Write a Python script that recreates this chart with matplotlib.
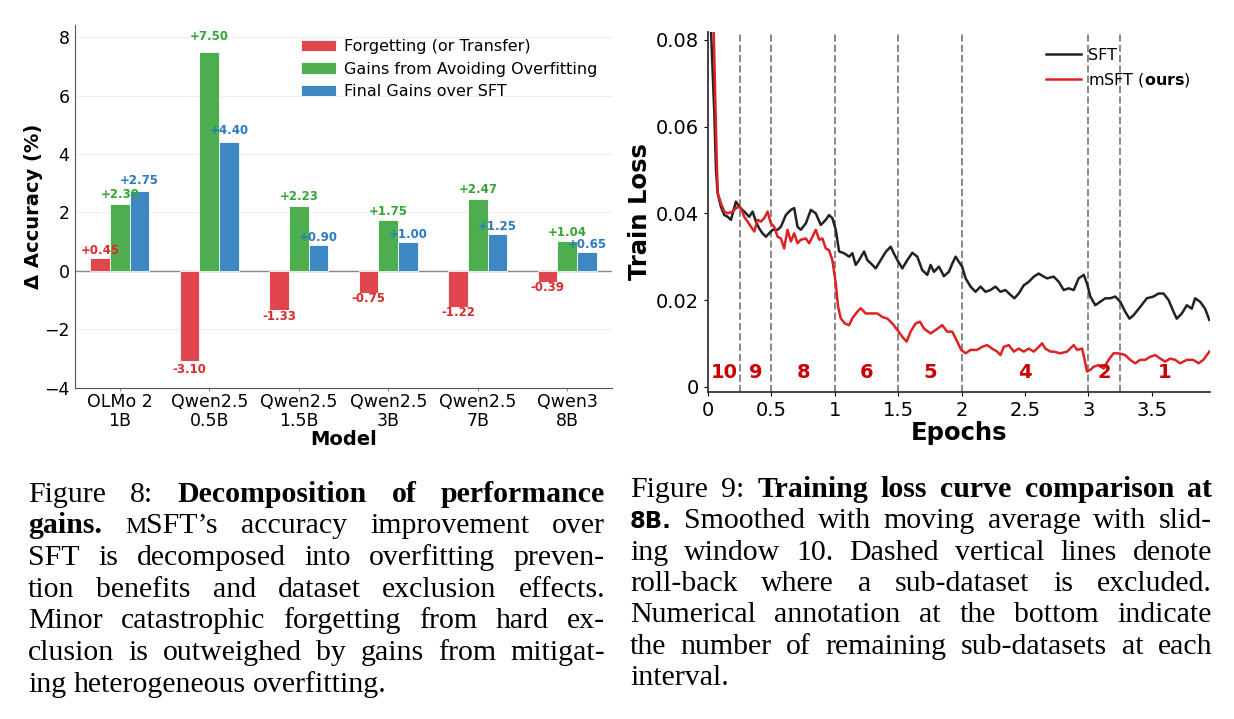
import numpy as np
import matplotlib
matplotlib.use('Agg')
from matplotlib import pyplot as plt
from matplotlib.ticker import FormatStrFormatter

# --- Figure 8: decomposition of gains ---
models = ['OLMo 2\n1B', 'Qwen2.5\n0.5B', 'Qwen2.5\n1.5B', 'Qwen2.5\n3B', 'Qwen2.5\n7B', 'Qwen3\n8B']
forgetting = [0.45, -3.10, -1.33, -0.75, -1.22, -0.39]
overfit_gains = [2.30, 7.50, 2.23, 1.75, 2.47, 1.04]
final_gains = [2.75, 4.40, 0.90, 1.00, 1.25, 0.65]
series_names = ['Forgetting (or Transfer)', 'Gains from Avoiding Overfitting', 'Final Gains over SFT']

# --- Figure 9: training loss curves ---
sft_epoch = [0.0, 0.024, 0.05, 0.063, 0.076, 0.102, 0.129, 0.155, 0.181, 0.22,
             0.247, 0.286, 0.325, 0.352, 0.378, 0.404, 0.43, 0.457, 0.483, 0.509,
             0.549, 0.575, 0.614, 0.654, 0.68, 0.706, 0.732, 0.772, 0.811, 0.85,
             0.89, 0.929, 0.955, 0.981, 1.008, 1.034, 1.073, 1.113, 1.139, 1.165,
             1.192, 1.231, 1.257, 1.283, 1.323, 1.362, 1.402, 1.441, 1.467, 1.494,
             1.533, 1.572, 1.612, 1.651, 1.69, 1.73, 1.756, 1.782, 1.822, 1.861,
             1.9, 1.927, 1.953, 1.979, 2.005, 2.032, 2.071, 2.11, 2.15, 2.189,
             2.228, 2.268, 2.307, 2.346, 2.386, 2.417, 2.451, 2.491, 2.53, 2.57,
             2.609, 2.648, 2.675, 2.727, 2.767, 2.806, 2.846, 2.885, 2.924, 2.964,
             2.99, 3.016, 3.055, 3.094, 3.134, 3.173, 3.213, 3.252, 3.291, 3.325,
             3.357, 3.409, 3.462, 3.514, 3.554, 3.593, 3.633, 3.672, 3.698, 3.738,
             3.777, 3.816, 3.843, 3.882, 3.921, 3.955]
sft_loss = [0.2, 0.082, 0.063, 0.050, 0.0446, 0.0415, 0.0396, 0.0392, 0.0385, 0.0427,
            0.0415, 0.0404, 0.0392, 0.0404, 0.0381, 0.0365, 0.0354, 0.0346, 0.0354, 0.0362,
            0.0362, 0.0369, 0.0396, 0.0408, 0.0412, 0.0369, 0.0362, 0.0377, 0.0408, 0.0400,
            0.0373, 0.0385, 0.0396, 0.0389, 0.0362, 0.0312, 0.0308, 0.0300, 0.0308, 0.0281,
            0.0292, 0.0312, 0.0292, 0.0285, 0.0273, 0.0292, 0.0311, 0.0323, 0.0307, 0.0292,
            0.0273, 0.0292, 0.0309, 0.0300, 0.0269, 0.0258, 0.0281, 0.0265, 0.0277, 0.0255,
            0.0265, 0.0284, 0.0300, 0.0288, 0.0277, 0.0250, 0.0231, 0.0219, 0.0231, 0.0219,
            0.0223, 0.0231, 0.0219, 0.0223, 0.0212, 0.0204, 0.0215, 0.0234, 0.0242, 0.0254,
            0.0261, 0.0254, 0.0250, 0.0254, 0.0242, 0.0223, 0.0227, 0.0223, 0.0250, 0.0258,
            0.0238, 0.0208, 0.0188, 0.0196, 0.0204, 0.0204, 0.0208, 0.0196, 0.0173, 0.0157,
            0.0165, 0.0184, 0.0204, 0.0208, 0.0215, 0.0215, 0.0200, 0.0173, 0.0157, 0.0169,
            0.0188, 0.0180, 0.0204, 0.0196, 0.0180, 0.0154]

msft_epoch = [0.0, 0.045, 0.06, 0.071, 0.078, 0.102, 0.129, 0.155, 0.194, 0.234,
              0.26, 0.286, 0.312, 0.339, 0.365, 0.391, 0.417, 0.444, 0.47, 0.496,
              0.522, 0.549, 0.575, 0.601, 0.627, 0.654, 0.68, 0.706, 0.732, 0.772,
              0.798, 0.824, 0.85, 0.877, 0.903, 0.929, 0.955, 0.981, 1.008, 1.026,
              1.047, 1.079, 1.113, 1.139, 1.178, 1.205, 1.244, 1.283, 1.336, 1.375,
              1.415, 1.454, 1.494, 1.533, 1.567, 1.598, 1.638, 1.672, 1.704, 1.756,
              1.796, 1.848, 1.887, 1.927, 1.966, 1.997, 2.032, 2.071, 2.123, 2.163,
              2.202, 2.241, 2.281, 2.307, 2.333, 2.373, 2.412, 2.451, 2.491, 2.53,
              2.57, 2.609, 2.635, 2.661, 2.701, 2.727, 2.78, 2.832, 2.885, 2.911,
              2.951, 2.969, 2.99, 3.016, 3.042, 3.081, 3.121, 3.16, 3.199, 3.239,
              3.291, 3.33, 3.37, 3.409, 3.449, 3.488, 3.528, 3.567, 3.606, 3.646,
              3.685, 3.724, 3.777, 3.829, 3.869, 3.908, 3.955]
msft_loss = [0.2, 0.082, 0.063, 0.050, 0.0446, 0.0423, 0.0404, 0.0400, 0.0404, 0.0415,
             0.0412, 0.0392, 0.0381, 0.0369, 0.0358, 0.0385, 0.0381, 0.0389, 0.0404, 0.0377,
             0.0369, 0.0346, 0.0342, 0.0319, 0.0362, 0.0335, 0.0354, 0.0331, 0.0339, 0.0342,
             0.0331, 0.0346, 0.0362, 0.0339, 0.0342, 0.0319, 0.0315, 0.0292, 0.0238, 0.0185,
             0.0158, 0.0146, 0.0142, 0.0158, 0.0173, 0.0181, 0.0169, 0.0169, 0.0169, 0.0161,
             0.0157, 0.0146, 0.0131, 0.0115, 0.0104, 0.0127, 0.0146, 0.0150, 0.0134, 0.0123,
             0.0131, 0.0142, 0.0127, 0.0127, 0.0104, 0.0085, 0.0077, 0.0085, 0.0085, 0.0092,
             0.0096, 0.0088, 0.0081, 0.0073, 0.0092, 0.0096, 0.0081, 0.0088, 0.0081, 0.0088,
             0.0081, 0.0092, 0.0100, 0.0088, 0.0081, 0.0081, 0.0077, 0.0081, 0.0096, 0.0085,
             0.0088, 0.0065, 0.0035, 0.0039, 0.0046, 0.0050, 0.0042, 0.0062, 0.0077, 0.0077,
             0.0073, 0.0062, 0.0054, 0.0062, 0.0062, 0.0069, 0.0073, 0.0065, 0.0058, 0.0065,
             0.0062, 0.0054, 0.0062, 0.0062, 0.0054, 0.0062, 0.0081]

rollback_epochs = [0.25, 0.5, 1.0, 1.5, 2.0, 3.0, 3.25]
interval_edges = [0.0, 0.25, 0.5, 1.0, 1.5, 2.0, 3.0, 3.25, 3.96]
remaining = [10, 9, 8, 6, 5, 4, 2, 1]

# --- captions: runs of (text, style) per line ---
caption8 = [
    [('Figure 8: ', 'r'), ('Decomposition of performance', 'b')],
    [('gains. ', 'b'), ('M', 'sc'), ('SFT\u2019s accuracy improvement over', 'r')],
    [('SFT is decomposed into overfitting preven-', 'r')],
    [('tion benefits and dataset exclusion effects.', 'r')],
    [('Minor catastrophic forgetting from hard ex-', 'r')],
    [('clusion is outweighed by gains from mitigat-', 'r')],
    [('ing heterogeneous overfitting.', 'r')],
]
caption9 = [
    [('Figure 9: ', 'r'), ('Training loss curve comparison at', 'b')],
    [('8B.', 'sans'), (' Smoothed with moving average with slid-', 'r')],
    [('ing window 10. Dashed vertical lines denote', 'r')],
    [('roll-back where a sub-dataset is excluded.', 'r')],
    [('Numerical annotation at the bottom indicate', 'r')],
    [('the number of remaining sub-datasets at each', 'r')],
    [('interval.', 'r')],
]

W, H = 1234, 719


def style_kw(style, fs):
    '''font settings for one caption run'''
    if style == 'b':
        return dict(family='Liberation Serif', fontsize=fs, fontweight='bold')
    if style == 'sc':
        return dict(family='Liberation Serif', fontsize=fs * 0.8)
    if style == 'sans':
        return dict(family='DejaVu Sans', fontsize=fs * 0.76, fontweight='bold')
    return dict(family='Liberation Serif', fontsize=fs)


def split_words(runs):
    words = [[]]
    for text, style in runs:
        parts = text.split(' ')
        for i, p in enumerate(parts):
            if i > 0:
                words.append([])
            if p:
                words[-1].append((p, style))
    return [w for w in words if w]


def text_width(fig, renderer, text, kw):
    t = fig.text(0, 0, text, **kw)
    w = t.get_window_extent(renderer).width
    t.remove()
    return w


def space_width(fig, renderer, fs):
    kw = style_kw('r', fs)
    return text_width(fig, renderer, 'a a', kw) - text_width(fig, renderer, 'aa', kw)


def word_widths(fig, renderer, words, fs):
    return [sum(text_width(fig, renderer, s, style_kw(st, fs)) for s, st in w) for w in words]


def fit_size(fig, renderer, paragraphs, base=19.0, shrink=0.75):
    '''largest font size where every justified line still fits with slightly shrunk spaces'''
    sp = space_width(fig, renderer, base)
    ratio = 10.0
    for lines, x0, x1 in paragraphs:
        for runs in lines[:-1]:
            words = split_words(runs)
            natural = sum(word_widths(fig, renderer, words, base)) + (len(words) - 1) * sp * shrink
            ratio = min(ratio, (x1 - x0) / natural)
    return base * ratio


def draw_caption(fig, renderer, lines, x0, x1, y0, step, fs):
    '''draw a justified paragraph, last line left aligned'''
    space = space_width(fig, renderer, fs)
    for n, runs in enumerate(lines):
        words = split_words(runs)
        widths = word_widths(fig, renderer, words, fs)
        if n == len(lines) - 1 or len(words) < 2:
            gap = space
        else:
            gap = (x1 - x0 - sum(widths)) / (len(words) - 1)
        y = y0 + n * step
        x = x0
        for word, w in zip(words, widths):
            xs = x
            for s, st in word:
                kw = style_kw(st, fs)
                fig.text(xs / W, 1 - y / H, s, ha='left', va='baseline', **kw)
                xs += text_width(fig, renderer, s, kw)
            x += w + gap


fig = plt.figure(figsize=(W / 100, H / 100), dpi=100)
renderer = fig.canvas.get_renderer()

# ---------------- left: bar chart ----------------
ax1 = fig.add_axes([75 / W, 1 - 387.7 / H, 537 / W, 362.7 / H])
x = np.arange(len(models))
width = 0.22
bar_colors = ['#e0474c', '#4cae4c', '#3d88c3']
text_colors = ['#dc2b2b', '#35a535', '#2a7bc0']

for k, (vals, name) in enumerate(zip([forgetting, overfit_gains, final_gains], series_names)):
    pos = x + (k - 1) * width
    ax1.bar(pos, vals, width, color=bar_colors[k], edgecolor='white', linewidth=0.6,
            label=name, zorder=3)
    for xi, v in zip(pos, vals):
        if v >= 0:
            ty = v + 0.22 + 0.042 * v
        else:
            ty = v - 0.17 - 0.035 * abs(v)
        ax1.text(xi, ty, f'{v:+.2f}', ha='center', va='center', color=text_colors[k],
                 fontsize=8.5, fontweight='bold', zorder=5)

ax1.axhline(0, color='#888888', lw=1.0, zorder=2)
ax1.set_xlim(-0.5, 5.5)
ax1.set_ylim(-4, 8.42)
ax1.set_yticks([-4, -2, 0, 2, 4, 6, 8])
ax1.set_xticks(x)
ax1.set_xticklabels(models, fontsize=12.5, linespacing=1.1)
ax1.tick_params(axis='y', labelsize=12.5, length=0, pad=4)
ax1.tick_params(axis='x', length=2, pad=1.5, color='#888888')
ax1.grid(axis='y', color='#eeeeee', lw=0.8, zorder=0)
ax1.set_axisbelow(True)
for side in ['top', 'right']:
    ax1.spines[side].set_visible(False)
for side in ['left', 'bottom']:
    ax1.spines[side].set_color('#555555')
ax1.set_xlabel('Model', fontsize=14, fontweight='bold', labelpad=0)
ax1.set_ylabel('\u0394 Accuracy (%)', fontsize=14, fontweight='bold', labelpad=1)
ax1.legend(loc='upper right', bbox_to_anchor=(1.0, 1.0), frameon=False, fontsize=11.5,
           handlelength=2.2, handletextpad=0.5, labelspacing=0.45)

# ---------------- right: loss curves ----------------
ax2 = fig.add_axes([708 / W, 1 - 391.7 / H, 502 / W, 360 / H])
ax2.plot(sft_epoch, sft_loss, color='#222222', lw=1.8, label='SFT', zorder=3)
ax2.plot(msft_epoch, msft_loss, color='#dd2222', lw=1.8, label=r'mSFT ($\mathbf{ours}$)', zorder=4)
for e in rollback_epochs:
    ax2.axvline(e, color='#888888', ls='--', lw=1.4, zorder=1)
for a, b, n in zip(interval_edges[:-1], interval_edges[1:], remaining):
    ax2.text((a + b) / 2, 0.0032, str(n), ha='center', va='center', color='#cc0000',
             fontsize=14, fontweight='bold', zorder=5)

ax2.set_xlim(0, 3.96)
ax2.set_ylim(-0.00115, 0.0819)
ax2.set_xticks([0, 0.5, 1, 1.5, 2, 2.5, 3, 3.5])
ax2.set_yticks([0, 0.02, 0.04, 0.06, 0.08])
ax2.xaxis.set_major_formatter(FormatStrFormatter('%g'))
ax2.yaxis.set_major_formatter(FormatStrFormatter('%g'))
ax2.tick_params(labelsize=14, length=3)
for side in ['top', 'right']:
    ax2.spines[side].set_visible(False)
for side in ['left', 'bottom']:
    ax2.spines[side].set_color('#333333')
    ax2.spines[side].set_linewidth(1.3)
ax2.set_xlabel('Epochs', fontsize=17.5, fontweight='bold', labelpad=1)
ax2.set_ylabel('Train Loss', fontsize=17.5, fontweight='bold', labelpad=3)
ax2.legend(loc='upper right', bbox_to_anchor=(0.99, 0.995), frameon=False, fontsize=11.5,
           handlelength=2.2, handletextpad=0.45, labelspacing=0.5)

# ---------------- captions ----------------
paragraphs = [(caption8, 28, 605), (caption9, 630, 1212)]
cap_fs = fit_size(fig, renderer, paragraphs) * 0.93
draw_caption(fig, renderer, caption8, 28, 605, 501.7, 31.7, cap_fs)
draw_caption(fig, renderer, caption9, 630, 1212, 496.7, 31.4, cap_fs)

fig.savefig('out.png', dpi=100)
